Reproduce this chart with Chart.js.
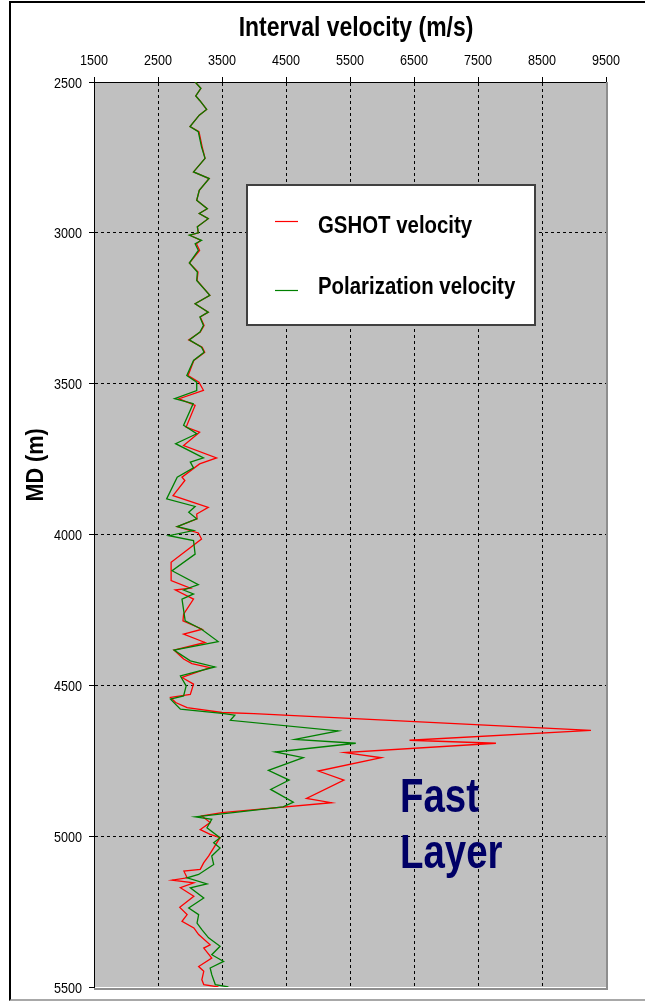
<!DOCTYPE html>
<html>
<head>
<meta charset="utf-8">
<title>Interval velocity vs MD</title>
<script src="https://cdn.jsdelivr.net/npm/chart.js@4/dist/chart.umd.min.js"></script>
<style>
  html, body { margin: 0; padding: 0; background: #fff; }
  #wrap { position: relative; width: 645px; height: 1001px; overflow: hidden; }
  #wrap canvas { position: absolute; left: 0; top: 0; }
  #frame {
    position: absolute; left: 9px; top: 1px; width: 636px; height: 1000px;
    border-top: 2px solid #000; border-left: 2px solid #000; border-bottom: 2px solid #a8a8a8;
    box-sizing: border-box; pointer-events: none;
  }
</style>
</head>
<body>
<div id="wrap">
  <canvas id="chart" width="645" height="1001"></canvas>
  <div id="frame"></div>
</div>
<script>
// ---- axis ticks and titles ----
const velocityTicks = [1500, 2500, 3500, 4500, 5500, 6500, 7500, 8500, 9500];
const depthTicks = [2500, 3000, 3500, 4000, 4500, 5000, 5500];
const velocityTitle = 'Interval velocity (m/s)';
const depthTitle = 'MD (m)';

// ---- series labels ----
const seriesNames = ['GSHOT velocity', 'Polarization velocity'];
const layerLabel = ['Fast', 'Layer'];

// ---- GSHOT velocity (m/s) by measured depth (m) ----
const gshotDepth = [
  2500, 2521, 2546, 2562, 2591, 2610, 2648, 2665, 2715, 2753, 2798, 2820, 2859, 2892, 2920, 2936,
  2953, 2980, 3000, 3008, 3025, 3036, 3058, 3100, 3130, 3158, 3207, 3235, 3263, 3279, 3307, 3329,
  3355, 3379, 3396, 3423, 3473, 3495, 3522, 3550, 3572, 3644, 3661, 3705, 3746, 3766, 3810, 3821,
  3871, 3910, 3932, 3948, 3974, 3995, 4015, 4092, 4153, 4178, 4184, 4214, 4264, 4286, 4314, 4330,
  4358, 4383, 4413, 4428, 4441, 4474, 4496, 4530, 4540, 4557, 4574, 4590, 4594, 4649, 4682, 4692,
  4723, 4740, 4784, 4814, 4875, 4889, 4922, 4933, 4955, 4978, 4994, 5005, 5039, 5066, 5088, 5110,
  5116, 5138, 5146, 5155, 5171, 5199, 5236, 5260, 5282, 5304, 5326, 5360, 5371, 5404, 5432, 5448,
  5476, 5492, 5500
];
const gshotVelocity = [
  3080, 3170, 3090, 3155, 3260, 3145, 3000, 3140, 3190, 3235, 3055, 3300, 3145, 3105, 3270, 3145,
  3285, 3115, 3130, 3000, 3170, 3100, 3150, 2990, 3125, 3110, 3310, 3080, 3285, 3160, 3220, 3160,
  2980, 3190, 3230, 3060, 2970, 3140, 3210, 2830, 3080, 2940, 3150, 2900, 3415, 3150, 2875, 2920,
  2735, 3285, 3105, 3110, 2800, 3130, 3180, 2705, 2705, 3005, 2770, 3055, 2900, 2890, 3190, 2900,
  3235, 2750, 2900, 3030, 3310, 2875, 3055, 3005, 2695, 2775, 2955, 3500, 4000, 9265, 6430, 7780,
  5420, 5990, 5005, 5405, 4820, 5210, 3500, 3185, 3315, 3160, 3315, 3470, 3370, 3290, 3215, 3160,
  2905, 2955, 2720, 3060, 2850, 3060, 2840, 2955, 2875, 3060, 3135, 3315, 3215, 3340, 3135, 3215,
  3185, 3215, 3445
];

// ---- Polarization velocity (m/s) by measured depth (m) ----
const polDepth = [
  2500, 2521, 2546, 2562, 2591, 2610, 2648, 2665, 2715, 2753, 2798, 2820, 2859, 2892, 2920, 2936,
  2953, 2980, 3000, 3008, 3025, 3036, 3058, 3100, 3130, 3158, 3207, 3235, 3263, 3279, 3307, 3329,
  3355, 3379, 3396, 3423, 3473, 3495, 3523, 3550, 3566, 3638, 3666, 3699, 3746, 3760, 3779, 3810,
  3882, 3907, 3926, 3948, 3974, 3987, 4004, 4020, 4065, 4120, 4166, 4184, 4197, 4214, 4286, 4314,
  4355, 4383, 4419, 4439, 4469, 4502, 4535, 4546, 4579, 4593, 4599, 4616, 4651, 4679, 4692, 4721,
  4740, 4782, 4814, 4845, 4887, 4903, 4926, 4936, 4944, 4972, 5005, 5022, 5039, 5066, 5094, 5127,
  5138, 5158, 5171, 5205, 5238, 5260, 5288, 5310, 5337, 5365, 5393, 5415, 5437, 5459, 5492, 5500
];
const polVelocity = [
  3080, 3170, 3090, 3155, 3260, 3145, 3000, 3130, 3180, 3235, 3055, 3300, 3145, 3105, 3270, 3145,
  3285, 3115, 3130, 2990, 3180, 3080, 3130, 2990, 3115, 3105, 3310, 3080, 3285, 3155, 3210, 3155,
  2990, 3180, 3220, 3055, 2950, 3105, 3105, 2760, 3050, 2900, 3105, 2775, 3210, 3005, 3055, 2800,
  2635, 3080, 2980, 3105, 2800, 3055, 2670, 3055, 3080, 2720, 3130, 2900, 3055, 2875, 2925, 3180,
  3440, 2750, 3005, 3390, 2850, 2940, 2900, 2695, 2850, 3500, 3700, 3630, 5315, 4640, 5590, 4330,
  4770, 4225, 4550, 4260, 4615, 4455, 3500, 3085, 3340, 3265, 3470, 3370, 3470, 3340, 3370, 3135,
  2955, 3265, 3005, 3215, 2980, 3135, 3110, 3185, 3290, 3470, 3340, 3525, 3315, 3340, 3395, 3600
];

const SANS = '"Liberation Sans", Arial, Helvetica, sans-serif';

function toPoints(xs, ys) {
  return xs.map((v, i) => ({ x: v, y: ys[i] }));
}

// text drawn with a horizontally condensed face
function narrowText(ctx, text, x, y, font, align, sx, color) {
  ctx.save();
  ctx.translate(x, y);
  ctx.scale(sx, 1);
  ctx.font = font;
  ctx.fillStyle = color || '#000';
  ctx.textAlign = align;
  ctx.textBaseline = 'alphabetic';
  ctx.fillText(text, 0, 0);
  ctx.restore();
}

// gray plot area
const plotBackground = {
  id: 'plotBackground',
  beforeDraw(chart) {
    const { ctx, chartArea: a } = chart;
    ctx.save();
    ctx.fillStyle = '#c0c0c0';
    ctx.fillRect(a.left, a.top, a.right - a.left, a.bottom - a.top);
    ctx.restore();
  }
};

// darker right / bottom edges of the plot area
const plotEdges = {
  id: 'plotEdges',
  afterDatasetsDraw(chart) {
    const { ctx, chartArea: a } = chart;
    ctx.save();
    ctx.strokeStyle = '#8e8e8e';
    ctx.lineWidth = 2;
    ctx.beginPath();
    ctx.moveTo(a.right + 1, a.top);
    ctx.lineTo(a.right + 1, a.bottom + 2);
    ctx.lineTo(a.left, a.bottom + 2);
    ctx.stroke();
    ctx.restore();
  }
};

// boxed legend inside the plot
const boxLegend = {
  id: 'boxLegend',
  afterDatasetsDraw(chart) {
    const { ctx } = chart;
    const box = { x: 247, y: 185, w: 288, h: 140 };
    ctx.save();
    ctx.fillStyle = '#ffffff';
    ctx.fillRect(box.x, box.y, box.w, box.h);
    ctx.strokeStyle = '#404040';
    ctx.lineWidth = 2;
    ctx.strokeRect(box.x, box.y, box.w, box.h);
    const rows = [{ line: 221.5, text: 233 }, { line: 290.5, text: 294 }];
    chart.data.datasets.forEach((ds, i) => {
      const r = rows[i];
      ctx.strokeStyle = ds.borderColor;
      ctx.lineWidth = 1.2;
      ctx.beginPath();
      ctx.moveTo(275, r.line);
      ctx.lineTo(298, r.line);
      ctx.stroke();
      narrowText(ctx, ds.label, 318, r.text, 'bold 24px ' + SANS, 'left', 0.85);
    });
    ctx.restore();
  }
};

// "Fast Layer" annotation
const layerNote = {
  id: 'layerNote',
  afterDatasetsDraw(chart) {
    const { ctx } = chart;
    narrowText(ctx, layerLabel[0], 400, 812, 'bold 48px ' + SANS, 'left', 0.8, '#000066');
    narrowText(ctx, layerLabel[1], 400, 868, 'bold 48px ' + SANS, 'left', 0.8, '#000066');
  }
};

// tick labels and axis titles, positioned from the chart's scales
const axisText = {
  id: 'axisText',
  afterDraw(chart) {
    const { ctx, chartArea: a } = chart;
    const xs = chart.scales.x, ys = chart.scales.y;
    xs.ticks.forEach(t => {
      narrowText(ctx, String(t.value), xs.getPixelForValue(t.value), a.top - 17, '15px ' + SANS, 'center', 0.84);
    });
    ys.ticks.forEach(t => {
      narrowText(ctx, String(t.value), a.left - 12, ys.getPixelForValue(t.value) + 5.5, '15px ' + SANS, 'right', 0.84);
    });
    narrowText(ctx, velocityTitle, (a.left + a.right) / 2 + 6, 36, 'bold 27px ' + SANS, 'center', 0.85);

    ctx.save();
    ctx.translate(43, 465);
    ctx.rotate(-Math.PI / 2);
    narrowText(ctx, depthTitle, 0, 0, 'bold 24px ' + SANS, 'center', 0.9);
    ctx.restore();
  }
};

const ctx = document.getElementById('chart').getContext('2d');
new Chart(ctx, {
  type: 'scatter',
  data: {
    datasets: [
      {
        label: seriesNames[0],
        data: toPoints(gshotVelocity, gshotDepth),
        borderColor: '#ff0000',
        backgroundColor: '#ff0000',
        borderWidth: 1.3,
        showLine: true,
        pointRadius: 0,
        tension: 0,
        order: 1
      },
      {
        label: seriesNames[1],
        data: toPoints(polVelocity, polDepth),
        borderColor: '#008000',
        backgroundColor: '#008000',
        borderWidth: 1.3,
        showLine: true,
        pointRadius: 0,
        tension: 0,
        order: 0
      }
    ]
  },
  options: {
    responsive: false,
    animation: false,
    events: [],
    layout: { padding: { left: 0, top: 0, right: 39, bottom: 14 } },
    plugins: {
      legend: { display: false },
      tooltip: { enabled: false },
      title: { display: false }
    },
    scales: {
      x: {
        type: 'linear',
        position: 'top',
        min: velocityTicks[0],
        max: velocityTicks[velocityTicks.length - 1],
        afterBuildTicks: s => { s.ticks = velocityTicks.map(v => ({ value: v })); },
        afterFit: s => { s.height = 82; },
        ticks: { display: false, autoSkip: false, maxRotation: 0 },
        grid: {
          color: c => (c.tick && (c.tick.value === velocityTicks[0] || c.tick.value === velocityTicks[velocityTicks.length - 1])) ? 'rgba(0,0,0,0)' : '#000',
          lineWidth: 1,
          tickLength: 5,
          tickColor: '#000',
          tickWidth: 1
        },
        border: { display: true, color: '#000', width: 1, dash: [3, 3] },
        title: { display: false }
      },
      y: {
        type: 'linear',
        reverse: true,
        min: depthTicks[0],
        max: depthTicks[depthTicks.length - 1],
        afterBuildTicks: s => { s.ticks = depthTicks.map(v => ({ value: v })); },
        afterFit: s => { s.width = 94; },
        ticks: { display: false, autoSkip: false },
        grid: {
          color: c => (c.tick && (c.tick.value === depthTicks[0] || c.tick.value === depthTicks[depthTicks.length - 1])) ? 'rgba(0,0,0,0)' : '#000',
          lineWidth: 1,
          tickLength: 5,
          tickColor: '#000',
          tickWidth: 1
        },
        border: { display: true, color: '#000', width: 1, dash: [3, 3] },
        title: { display: false }
      }
    }
  },
  plugins: [plotBackground, plotEdges, boxLegend, layerNote, axisText]
});
</script>
</body>
</html>
